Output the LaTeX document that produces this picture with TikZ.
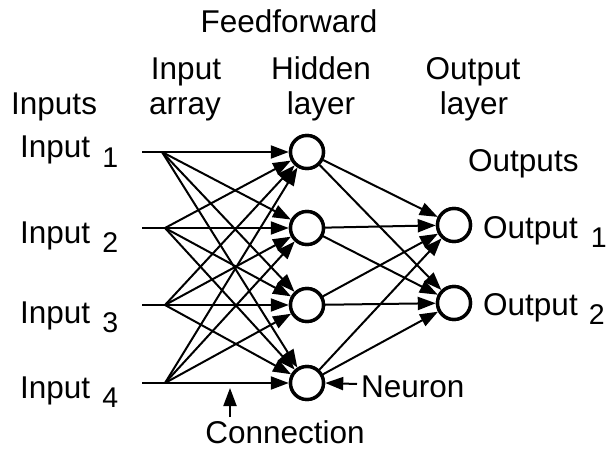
\documentclass[tikz,border=0pt]{standalone}
\usepackage{fontspec}
\setmainfont{Liberation Sans}
\usetikzlibrary{arrows.meta}
\tikzset{
  neuron/.style={circle, draw, line width=3.4pt, minimum size=33pt, inner sep=0pt, fill=white},
  conn/.style={line width=2pt, -{Triangle[length=18pt,width=13pt]}},
  lbl/.style={inner sep=0pt, font=\fontsize{31.5}{36}\selectfont},
}
\newcommand{\sub}[1]{\raisebox{-9.5pt}{\fontsize{28.5}{32}\selectfont #1}}
\begin{document}
\begin{tikzpicture}[x=1pt,y=-1pt]
\useasboundingbox (0,0) rectangle (610,449);
% neurons
\node[neuron] (h1) at (307,152) {};
\node[neuron] (h2) at (307,228) {};
\node[neuron] (h3) at (307,305) {};
\node[neuron] (h4) at (307,383) {};
\node[neuron] (o1) at (454,225) {};
\node[neuron] (o2) at (454,303) {};
% input points
\foreach \i/\y/\bx in {1/152/162, 2/228/165, 3/305/165, 4/383/165} {
  \coordinate (s\i) at (142,\y);
  \coordinate (b\i) at (\bx,\y);
}
% connections input -> hidden
\foreach \i in {1,...,4} {
  \draw[conn] (s\i) -- (h\i);
  \foreach \j in {1,...,4} {
    \ifnum\i=\j\else \draw[conn] (b\i) -- (h\j); \fi
  }
}
% hidden -> output
\foreach \i in {1,...,4} {
  \foreach \j in {1,2} {
    \draw[conn] (h\i) -- (o\j);
  }
}
% redraw neurons on top
\foreach \n in {h1,h2,h3,h4,o1,o2} { \draw[line width=3.4pt, fill=white] (\n) circle (16.5pt); }
% labels
\node[lbl, anchor=base] (ff) at (289,33) {Feedforward};
\node[lbl, anchor=base] (ia1) at (186,80) {Input};
\node[lbl, anchor=base] (ia2) at (185,115) {array};
\node[lbl, anchor=base] (hl1) at (321,80) {Hidden};
\node[lbl, anchor=base] (hl2) at (321,115) {layer};
\node[lbl, anchor=base] (ol1) at (473,80) {Output};
\node[lbl, anchor=base] (ol2) at (474,115) {layer};
\node[lbl, anchor=base west] (ins) at (11,115) {Inputs};
\node[lbl, anchor=base west] (in1) at (20,158) {Input\hspace{12pt}\sub{1}};
\node[lbl, anchor=base west] (in2) at (20,243) {Input\hspace{12pt}\sub{2}};
\node[lbl, anchor=base west] (in3) at (20,323) {Input\hspace{12pt}\sub{3}};
\node[lbl, anchor=base west] (in4) at (20,398) {Input\hspace{12pt}\sub{4}};
\node[lbl, anchor=base west] (outs) at (468,172) {Outputs};
\node[lbl, anchor=base west] (out1) at (483,238) {Output\hspace{13pt}\sub{1}};
\node[lbl, anchor=base west] (out2) at (483,315) {Output\hspace{11pt}\sub{2}};
\node[lbl, anchor=base west] (neu) at (361,397) {Neuron};
\node[lbl, anchor=base] (con) at (285,443) {Connection};
% pointer arrows
\coordinate (np) at (357,384);
\draw[conn] (np) -- (h4.east);
\coordinate (cp0) at (230,417);
\coordinate (cp1) at (230,388);
\draw[conn] (cp0) -- (cp1);
\end{tikzpicture}
\end{document}
